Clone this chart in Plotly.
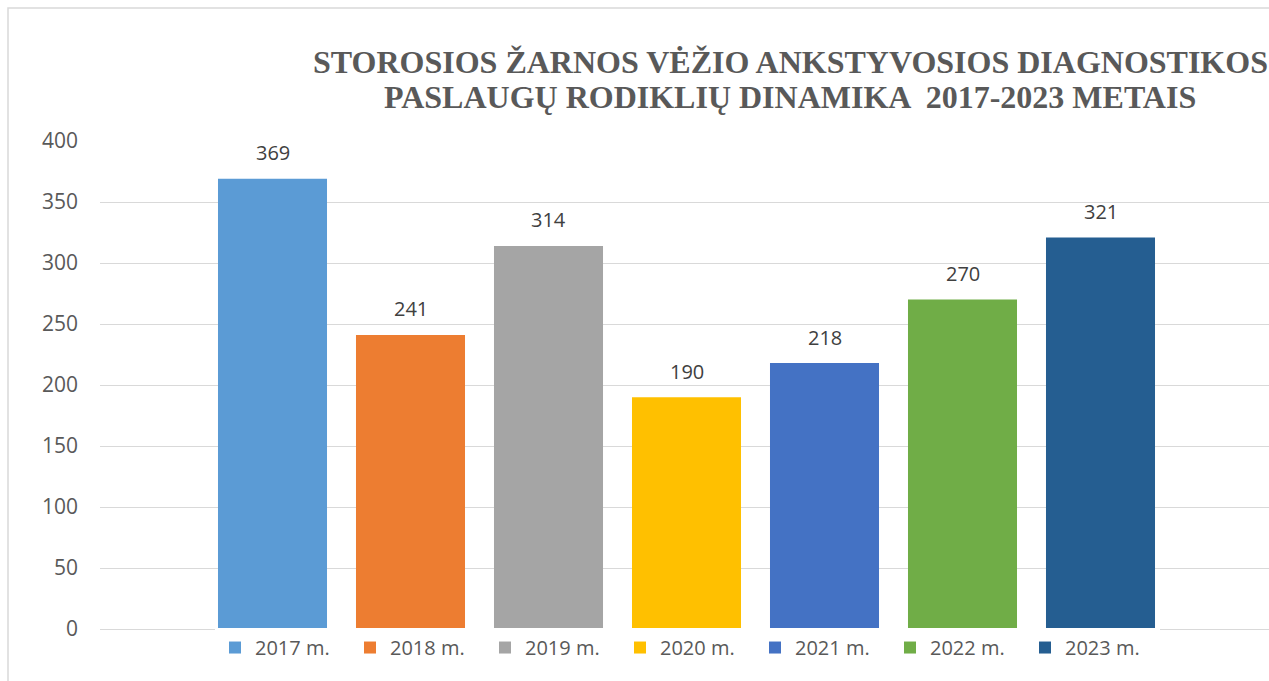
import plotly.graph_objects as go

years = ["2017 m.", "2018 m.", "2019 m.", "2020 m.", "2021 m.", "2022 m.", "2023 m."]
values = [369, 241, 314, 190, 218, 270, 321]
colors = ["#5B9BD5", "#ED7D31", "#A5A5A5", "#FFC000", "#4472C4", "#70AD47", "#255E91"]
y_ticks = [0, 50, 100, 150, 200, 250, 300, 350, 400]
title_lines = ["STOROSIOS ŽARNOS VĖŽIO ANKSTYVOSIOS DIAGNOSTIKOS",
               "PASLAUGŲ RODIKLIŲ DINAMIKA  2017-2023 METAIS"]

W, H = 1269, 681
L, R, T, B = 100, 0, 141, 52
pw, ph = W - L - R, H - T - B
FONT = "Open Sans, Liberation Sans, sans-serif"

fig = go.Figure()
for yr, v, c in zip(years, values, colors):
    fig.add_trace(go.Bar(
        x=[yr], y=[v], name=yr, marker=dict(color=c, line=dict(width=0)),
    ))

label_annotations = [
    dict(x=yr, y=v, xref="x", yref="y", text=str(v), showarrow=False,
         yanchor="middle", yshift=26,
         font=dict(family=FONT, size=20, color="#404040"))
    for yr, v in zip(years, values)
]

title_annotations = [
    dict(text="<b>" + line + "</b>", xref="paper", yref="paper",
         x=(790 - L) / pw, y=(629 - yc) / ph, xanchor="center", yanchor="middle",
         showarrow=False, align="center",
         font=dict(family="Liberation Serif, Times New Roman, serif", size=32, color="#595959"))
    for line, yc in zip(title_lines, [62, 97])
]

pitch = 138.0
a = -1.25
b = a + pw / pitch

fig.update_layout(
    width=W, height=H,
    margin=dict(l=L, r=R, t=T, b=B),
    paper_bgcolor="white", plot_bgcolor="white",
    barmode="overlay", bargap=0.21,
    showlegend=True,
    legend=dict(orientation="h", x=0.5 + 3 / pw, xanchor="center", y=0.002, yanchor="top",
                font=dict(family=FONT, size=20, color="#595959"),
                entrywidth=90, entrywidthmode="pixels", itemwidth=30, traceorder="normal"),
    xaxis=dict(range=[a, b], showticklabels=False, showgrid=False, zeroline=False,
               showline=False, ticks="", categoryorder="array", categoryarray=years),
    yaxis=dict(range=[0, 400], tickvals=y_ticks, showgrid=True, gridcolor="#D9D9D9", gridwidth=1.3,
               zeroline=True, zerolinecolor="#D9D9D9", zerolinewidth=1.3, showline=False,
               tickfont=dict(family=FONT, size=21, color="#595959"),
               ticklabelstandoff=21),
    annotations=title_annotations + label_annotations,
    shapes=[dict(type="rect", xref="paper", yref="paper",
                 x0=(8 - L) / pw, x1=1.05, y0=-0.2, y1=(629 - 8) / ph,
                 line=dict(color="#D9D9D9", width=1.5), fillcolor="rgba(0,0,0,0)", layer="below")],
)

fig.write_html("out.html", config={"displayModeBar": False},
               post_script="document.body.style.margin='0';document.body.style.overflow='hidden';")
